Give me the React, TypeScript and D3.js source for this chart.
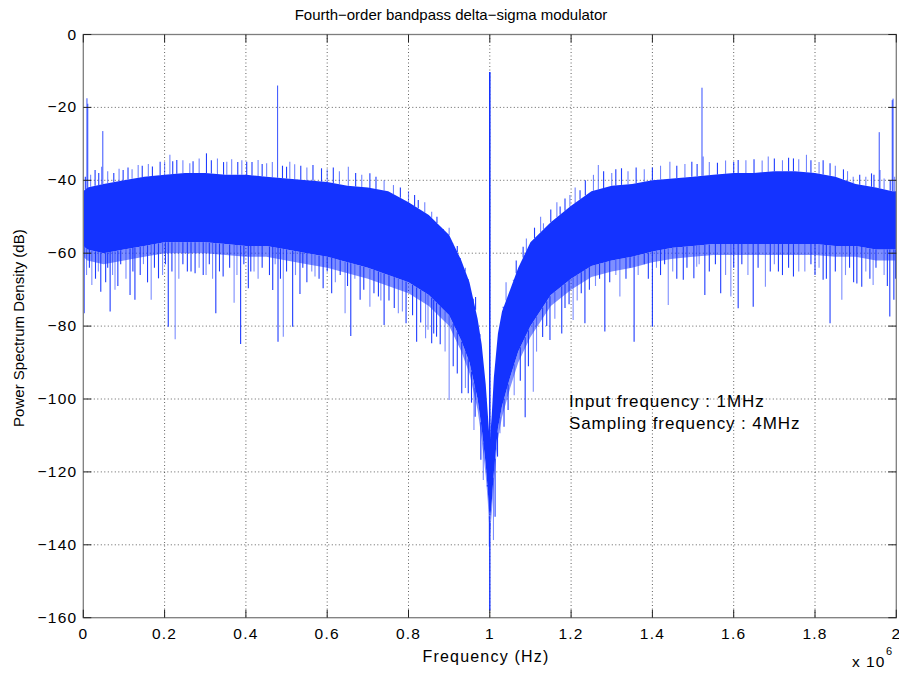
import React from "react";
import * as d3 from "d3";

// Frequency grid (MHz, axis shown as x 10^6 Hz)
const FREQ = [0, 0.01, 0.05, 0.1, 0.15, 0.2, 0.25, 0.3, 0.35, 0.4, 0.45, 0.5, 0.55, 0.6, 0.65, 0.7, 0.75, 0.8, 0.85, 0.9, 0.93, 0.95, 0.97, 0.98, 0.99, 0.995, 1.0, 1.005, 1.01, 1.02, 1.03, 1.05, 1.07, 1.1, 1.15, 1.2, 1.25, 1.3, 1.35, 1.4, 1.45, 1.5, 1.55, 1.6, 1.65, 1.7, 1.75, 1.8, 1.85, 1.9, 1.95, 1.99, 2.0];
// Top of the dense noise band (dB)
const BAND_TOP = [-43, -42, -41, -40, -39, -38.5, -38, -38, -38.5, -38.5, -39, -39.5, -40, -40.5, -41.5, -42, -43, -46, -49.5, -55, -62, -68, -78, -85, -96, -104, -112, -104, -94, -82, -76, -70, -64, -57, -51.5, -47, -43, -41.5, -41, -40, -39.5, -39, -38.5, -38, -38, -37.5, -37.5, -38, -39, -41, -42, -43, -43];
// Bottom of the opaque part of the band (dB)
const BAND_BOTTOM = [-58, -59, -60, -59, -58, -57, -57, -57, -57.5, -58, -58, -59, -60, -61, -62.5, -64, -66, -68, -71.5, -77, -84, -90, -100, -108, -118, -125, -134, -128, -120, -108, -102, -94, -87, -80, -71.5, -67, -63.5, -62, -61, -59.5, -58.5, -58, -57.5, -57.5, -57.5, -57.5, -57.5, -57.5, -58, -58, -59, -59, -59];
// Lower edge of the thin fringe just below the band (dB)
const FRINGE_BOTTOM = [-61, -62, -63, -62, -61, -60, -60, -60, -60.5, -61, -61, -62, -63, -64, -65.5, -67, -69, -71, -74.5, -80, -87, -93, -103, -111, -121, -128, -138, -131, -123, -111, -105, -97, -90, -83, -74.5, -70, -66.5, -65, -64, -62.5, -61.5, -61, -60.5, -60.5, -60.5, -60.5, -60.5, -60.5, -61, -61, -62, -62, -62];

// Strong tones (MHz, dB)
const PEAK_F = [0.009, 0.011, 0.048, 0.478, 1.0, 1.522, 1.958, 1.99, 1.992];
const PEAK_DB = [-17.5, -19, -26.5, -14, -10.3, -14.6, -26.8, -18, -17.6];

// Upward spikes above the band
const MINOR_F = [0.029, 0.045, 0.098, 0.135, 0.189, 0.213, 0.23, 0.262, 0.303, 0.353, 0.402, 0.451, 0.5, 0.508, 0.586, 0.652, 0.705, 0.763, 0.824, 0.857, 0.886, 0.91, 0.927, 0.947, 0.959, 0.976, 1.033, 1.058, 1.082, 1.132, 1.173, 1.197, 1.222, 1.267, 1.324, 1.443, 1.497, 1.525, 1.611, 1.685, 1.747, 1.779, 1.837, 1.894, 1.939, 1.96,
  0.005, 0.018, 0.038, 0.06, 0.075, 0.088, 0.11, 0.12, 0.145, 0.16, 0.17, 0.2, 0.22, 0.245, 0.27, 0.285, 0.315, 0.33, 0.345, 0.365, 0.38, 0.39, 0.415, 0.43, 0.44, 0.465, 0.49, 0.52, 0.535, 0.55, 0.565, 0.6, 0.615, 0.63, 0.67, 0.685, 0.72, 0.74, 0.78, 0.8, 0.815, 0.84, 0.87, 0.9, 0.92, 0.94, 0.965,
  1.04, 1.065, 1.09, 1.11, 1.125, 1.15, 1.165, 1.185, 1.21, 1.235, 1.255, 1.28, 1.3, 1.31, 1.34, 1.36, 1.38, 1.4, 1.42, 1.46, 1.48, 1.51, 1.54, 1.56, 1.58, 1.6, 1.63, 1.65, 1.67, 1.7, 1.72, 1.735, 1.76, 1.79, 1.81, 1.82, 1.85, 1.87, 1.88, 1.91, 1.925, 1.945, 1.97, 1.985, 1.996];
const MINOR_DB = [-37.2, -36.3, -37.2, -35.8, -34.9, -33, -34.4, -35.3, -32.6, -34.9, -34.9, -35.3, -36.3, -34.9, -36.7, -36.3, -38.1, -41.3, -45.4, -48.6, -54.5, -57.3, -61.9, -69.2, -73.7, -82.9, -74.7, -67.3, -58.2, -51.8, -47.2, -44, -42.7, -35.8, -36.7, -34.9, -34.9, -33.5, -34.4, -33.5, -34, -33, -35.3, -39, -38.1, -37.2,
  -39, -38.5, -38, -37.5, -38, -36.8, -36.5, -37, -36, -35.5, -36.2, -35, -34.8, -34.5, -34.8, -34, -34.5, -34, -35, -34.2, -35, -34.5, -35, -34.4, -35.5, -35, -36, -35.6, -36, -36.5, -35.8, -37, -36.5, -37.5, -38, -38.5, -39, -40, -42, -43, -44, -46, -50, -53, -58, -64, -72,
  -68, -62, -56, -53, -50, -48, -46, -45, -42, -40, -38.5, -37.5, -38, -37, -37.5, -36.5, -37, -36.5, -36, -36, -35.5, -35.5, -35, -35.2, -34.6, -35, -34.5, -34.2, -34.6, -34, -34.5, -33.8, -34.2, -34.5, -35, -34.5, -36, -37, -37.5, -38.5, -39, -38.5, -39.5, -40, -39];

// Downward spikes below the band
const DIP_F = [0.002, 0.021, 0.043, 0.066, 0.078, 0.115, 0.127, 0.167, 0.185, 0.209, 0.226, 0.256, 0.275, 0.302, 0.326, 0.344, 0.371, 0.387, 0.406, 0.42, 0.466, 0.479, 0.492, 0.515, 0.533, 0.57, 0.59, 0.611, 0.644, 0.658, 0.681, 0.705, 0.726, 0.74, 0.775, 0.794, 0.82, 0.842, 0.857, 0.869, 0.9, 0.931, 0.947, 0.961, 0.964, 0.978, 0.984, 0.994, 0.999, 1.009, 1.013, 1.019, 1.025, 1.035, 1.087, 1.107, 1.148, 1.177, 1.205, 1.234, 1.283, 1.32, 1.355, 1.4, 1.439, 1.476, 1.502, 1.509, 1.529, 1.568, 1.593, 1.611, 1.648, 1.678, 1.71, 1.747, 1.775, 1.82, 1.837, 1.866, 1.903, 1.915, 1.943, 1.984, 1.994,
  0.008, 0.015, 0.03, 0.037, 0.055, 0.06, 0.072, 0.085, 0.092, 0.105, 0.122, 0.14, 0.148, 0.158, 0.175, 0.195, 0.202, 0.218, 0.235, 0.245, 0.265, 0.285, 0.295, 0.31, 0.318, 0.335, 0.36, 0.378, 0.395, 0.412, 0.43, 0.44, 0.458, 0.472, 0.485, 0.5, 0.522, 0.54, 0.55, 0.562, 0.58, 0.6, 0.62, 0.632, 0.65, 0.668, 0.69, 0.715, 0.732, 0.752, 0.765, 0.785, 0.81, 0.83, 0.848, 0.862, 0.878, 0.89, 0.91, 0.92, 0.94, 0.955,
  1.045, 1.06, 1.075, 1.095, 1.115, 1.13, 1.14, 1.16, 1.185, 1.195, 1.215, 1.225, 1.245, 1.26, 1.27, 1.295, 1.31, 1.335, 1.345, 1.365, 1.38, 1.39, 1.41, 1.42, 1.43, 1.45, 1.46, 1.485, 1.515, 1.54, 1.555, 1.58, 1.6, 1.62, 1.635, 1.66, 1.69, 1.7, 1.72, 1.735, 1.76, 1.79, 1.8, 1.81, 1.828, 1.85, 1.875, 1.885, 1.895, 1.925, 1.935, 1.95, 1.97, 1.978, 1.998];
const DIP_DB = [-76.5, -68.7, -70.6, -76, -70, -71.5, -72.8, -72.8, -66.9, -80.2, -83.6, -65, -65.5, -66, -76.5, -66.4, -73.6, -84.9, -69.6, -65, -70.1, -84.3, -82.9, -80.2, -71.2, -66.4, -69.6, -71, -76.5, -82.7, -72.8, -74.7, -71.9, -79.7, -76.5, -79.2, -84.3, -83.3, -84.7, -82.9, -100.3, -98.4, -98.4, -108.5, -104.9, -116.7, -122.2, -124, -140.5, -138.7, -132.3, -115.8, -109.4, -107.6, -105, -98, -83.8, -82, -78.3, -79.2, -81.5, -71.9, -84.3, -80.2, -74.2, -67.3, -66.9, -63.7, -71.5, -71, -71.9, -75.1, -74.7, -69.2, -65, -66.4, -65, -67.3, -79.2, -72.8, -68.3, -69.2, -68.7, -77.4, -72.8,
  -66, -64, -67, -65, -68, -64, -66, -69, -63, -67, -65, -66, -63, -68, -64, -66, -63, -65, -67, -63, -65, -64, -66, -63, -67, -65, -64, -66, -63, -65, -67, -64, -66, -63, -67, -65, -66, -64, -68, -65, -67, -65, -68, -66, -69, -67, -70, -71, -73, -73, -75, -76, -77, -79, -81, -82, -85, -87, -91, -93, -97, -101,
  -103, -99, -95, -91, -87, -83, -80, -78, -75, -74, -73, -71, -70, -69, -67, -68, -66, -67, -64, -66, -63, -67, -64, -66, -63, -65, -67, -64, -63, -65, -63, -66, -64, -63, -66, -64, -65, -63, -66, -64, -65, -63, -66, -64, -67, -65, -66, -64, -68, -65, -67, -64, -66, -69, -67];

const CENTER_MIN_DB = -158;

const X_TICKS = [0, 0.2, 0.4, 0.6, 0.8, 1, 1.2, 1.4, 1.6, 1.8, 2];
const Y_TICKS = [0, -20, -40, -60, -80, -100, -120, -140, -160];

const W = 899;
const H = 673;
const L = 83.3, R = 896.3, T = 34.5, B = 617.7;
const BLUE = "#1433ff";
const FONT = "'Liberation Sans', Arial, Helvetica, sans-serif";

function interp(f: number, arr: number[]) {
  for (let i = 0; i < FREQ.length - 1; i++) {
    if (f >= FREQ[i] && f <= FREQ[i + 1]) {
      const t = (f - FREQ[i]) / (FREQ[i + 1] - FREQ[i]);
      return arr[i] + t * (arr[i + 1] - arr[i]);
    }
  }
  return arr[arr.length - 1];
}

const fmt = (v: number) => (v < 0 ? "\u2212" + Math.abs(v) : String(v));

export default function App() {
  const x = d3.scaleLinear().domain([0, 2]).range([L, R]);
  const y = d3.scaleLinear().domain([-160, 0]).range([B, T]);

  const idx = FREQ.map((_, i) => i);
  const band = d3
    .area<number>()
    .x((i) => x(FREQ[i]))
    .y0((i) => y(BAND_BOTTOM[i]))
    .y1((i) => y(BAND_TOP[i]))(idx) as string;
  const fringe = d3
    .area<number>()
    .x((i) => x(FREQ[i]))
    .y0((i) => y(FRINGE_BOTTOM[i]))
    .y1((i) => y(BAND_BOTTOM[i]))(idx) as string;

  return (
    <svg width={W} height={H} style={{ position: "absolute", left: 0, top: 0, background: "#fff" }} fontFamily={FONT}>
      <rect x={0} y={0} width={W} height={H} fill="#fff" />
      <defs>
        <clipPath id="plot">
          <rect x={L} y={T} width={R - L} height={B - T} />
        </clipPath>
      </defs>
      {/* grid */}
      <g stroke="#3a3a3a" strokeWidth={0.8} strokeDasharray="1,2.5">
        {X_TICKS.slice(1, -1).map((t) => (
          <line key={"gx" + t} x1={x(t)} x2={x(t)} y1={T} y2={B} />
        ))}
        {Y_TICKS.slice(1, -1).map((t) => (
          <line key={"gy" + t} x1={L} x2={R} y1={y(t)} y2={y(t)} />
        ))}
      </g>
      <g clipPath="url(#plot)">
        <path d={fringe} fill={BLUE} opacity={0.55} />
        <path d={band} fill={BLUE} />
        {DIP_F.map((f, i) => (
          <line
            key={"d" + i}
            x1={x(f)}
            x2={x(f)}
            y1={y(interp(f, BAND_BOTTOM))}
            y2={y(DIP_DB[i])}
            stroke={BLUE}
            strokeWidth={1.1}
            opacity={i % 3 === 1 ? 0.55 : 0.95}
          />
        ))}
        {MINOR_F.map((f, i) => (
          <line
            key={"m" + i}
            x1={x(f)}
            x2={x(f)}
            y1={y(interp(f, BAND_TOP))}
            y2={y(MINOR_DB[i])}
            stroke={BLUE}
            strokeWidth={1.1}
            opacity={i % 2 === 0 ? 0.95 : 0.6}
          />
        ))}
        {PEAK_F.map((f, i) => (
          <line
            key={"p" + i}
            x1={x(f)}
            x2={x(f)}
            y1={y(interp(f, BAND_TOP))}
            y2={y(PEAK_DB[i])}
            stroke={BLUE}
            strokeWidth={f === 1 ? 1.6 : 1}
            opacity={f === 1 ? 1 : 0.85}
          />
        ))}
        <line x1={x(1)} x2={x(1)} y1={y(interp(1, BAND_BOTTOM))} y2={y(CENTER_MIN_DB)} stroke={BLUE} strokeWidth={1.4} />
      </g>
      {/* frame */}
      <rect x={L} y={T} width={R - L} height={B - T} fill="none" stroke="#7d7d7d" strokeWidth={1.3} />
      {/* ticks */}
      <g stroke="#222" strokeWidth={1}>
        {X_TICKS.map((t) => (
          <g key={"tx" + t}>
            <line x1={x(t)} x2={x(t)} y1={B} y2={B - 8} />
            <line x1={x(t)} x2={x(t)} y1={T} y2={T + 8} />
          </g>
        ))}
        {Y_TICKS.map((t) => (
          <g key={"ty" + t}>
            <line x1={L} x2={L + 8} y1={y(t)} y2={y(t)} />
            <line x1={R} x2={R - 8} y1={y(t)} y2={y(t)} />
          </g>
        ))}
      </g>
      {/* tick labels */}
      <g fontSize={15.5} fill="#000" letterSpacing={1.2}>
        {X_TICKS.map((t) => (
          <text key={"lx" + t} x={x(t)} y={B + 21} textAnchor="middle">
            {String(t)}
          </text>
        ))}
        {Y_TICKS.map((t) => (
          <text key={"ly" + t} x={L - 6} y={y(t) + 5} textAnchor="end">
            {fmt(t)}
          </text>
        ))}
      </g>
      <text x={852} y={667} fontSize={15.5} letterSpacing={1}>x 10</text>
      <text x={886} y={655} fontSize={11}>6</text>
      <text x={486} y={662} fontSize={16} letterSpacing={1.2} textAnchor="middle">Frequency (Hz)</text>
      <text transform={`translate(24,${(T + B) / 2 + 2}) rotate(-90)`} fontSize={15} textAnchor="middle">
        Power Spectrum Density (dB)
      </text>
      <text x={451} y={20} fontSize={15} textAnchor="middle">
        Fourth−order bandpass delta−sigma modulator
      </text>
      <text x={569} y={407} fontSize={17} letterSpacing={0.9}>Input frequency : 1MHz</text>
      <text x={569} y={429} fontSize={17} letterSpacing={0.9}>Sampling frequency : 4MHz</text>
    </svg>
  );
}
